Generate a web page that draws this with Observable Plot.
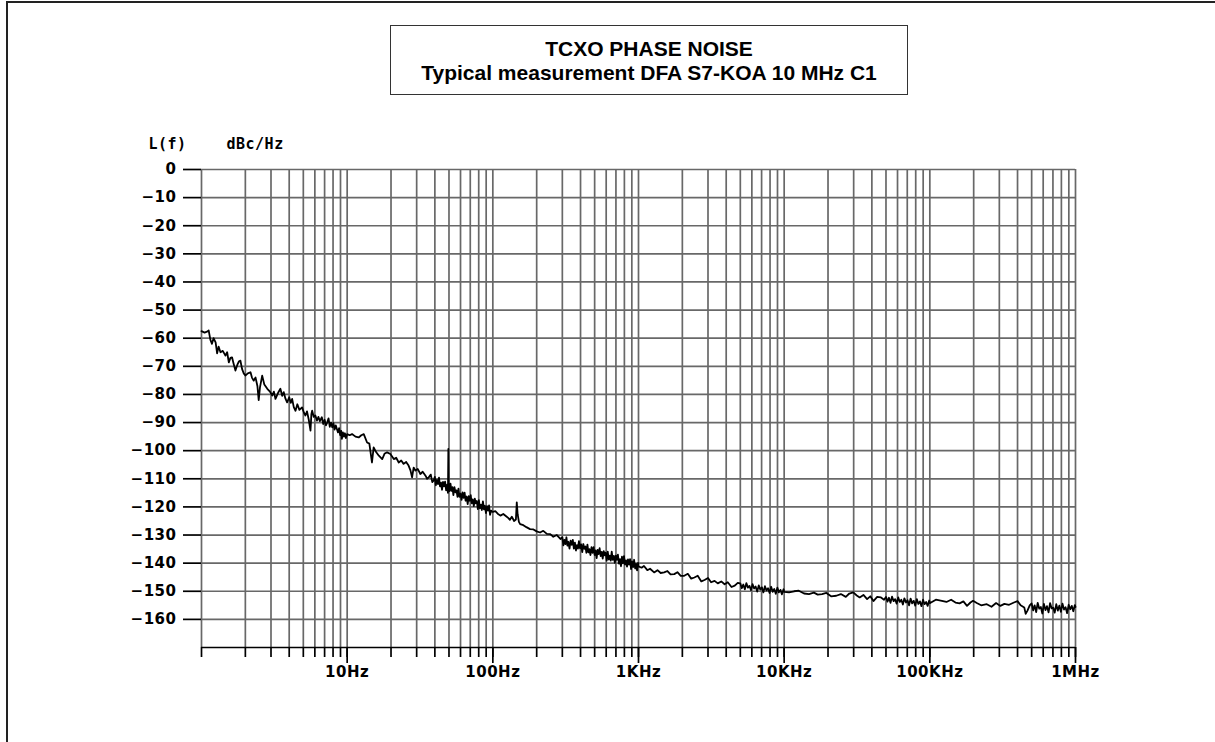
<!DOCTYPE html>
<html>
<head>
<meta charset="utf-8">
<script src="https://cdn.jsdelivr.net/npm/d3@7"></script>
<script src="https://cdn.jsdelivr.net/npm/@observablehq/plot@0.6"></script>
<style>
  html, body { margin: 0; padding: 0; background: #fff; }
  #page { position: relative; width: 1215px; height: 742px; overflow: hidden; background: #fff; }
  #frame { position: absolute; left: 6px; top: 1px; width: 1300px; height: 900px; border-left: 2px solid #222; border-top: 2px solid #222; }
  #title { position: absolute; left: 390px; top: 25px; width: 518px; height: 70px; border: 1.5px solid #333;
           font-family: "Liberation Sans", Arial, sans-serif; font-weight: bold; font-size: 21px; color: #000;
           text-align: center; line-height: 24px; padding-top: 11px; box-sizing: border-box; background: #fff; white-space: nowrap; }
  #chart { position: absolute; left: 0; top: 0; }
</style>
</head>
<body>
<div id="page">
  <div id="chart"></div>
  <div id="frame"></div>
  <div id="title">TCXO PHASE NOISE<br>Typical measurement DFA S7-KOA 10 MHz C1</div>
</div>
<script>
const decade1Hz = [
  [1.00,-57.5],[1.05,-58.0],[1.10,-57.6],[1.12,-57.2],[1.15,-60.5],[1.18,-62.0],[1.21,-60.0],[1.25,-61.5],[1.28,-65.4],[1.31,-63.0],
  [1.35,-65.0],[1.40,-64.5],[1.46,-66.2],[1.50,-65.0],[1.54,-68.6],[1.58,-67.0],[1.62,-66.8],[1.66,-69.0],[1.71,-71.5],[1.76,-69.5],
  [1.81,-68.2],[1.85,-68.0],[1.90,-71.0],[1.95,-72.5],[2.00,-73.3],[2.08,-72.5],[2.17,-72.1],[2.22,-74.0],[2.28,-75.1],[2.35,-74.0],
  [2.42,-77.0],[2.47,-82.0],[2.52,-77.5],[2.61,-73.3],[2.70,-76.5],[2.83,-78.0],[2.95,-79.0],[3.06,-80.4],[3.14,-79.0],[3.22,-81.6],
  [3.35,-79.5],[3.48,-78.0],[3.58,-80.5],[3.67,-79.2],[3.77,-81.5],[3.87,-82.8],[4.00,-81.0],[4.10,-83.0],[4.19,-81.6],[4.30,-84.5],
  [4.42,-85.8],[4.55,-83.5],[4.70,-85.5],[4.90,-84.6],[5.05,-86.5],[5.17,-87.5],[5.30,-86.0],[5.45,-89.0],[5.60,-92.9],[5.68,-87.0],
  [5.75,-85.8],[5.90,-88.0],[6.05,-87.5],[6.20,-89.3],[6.35,-88.0],[6.50,-89.5],[6.70,-88.1],[6.85,-90.5],[7.00,-89.0],[7.15,-91.0],
  [7.30,-89.9],[7.45,-88.5],[7.60,-91.5],[7.75,-90.0],[7.90,-91.7],[8.05,-90.2],[8.20,-92.5],[8.35,-91.0],[8.50,-92.3],[8.65,-93.5],
  [8.80,-92.0],[8.95,-94.5],[9.10,-93.0],[9.20,-95.8],[9.35,-93.5],[9.50,-95.0],[9.65,-93.8],[9.80,-95.5]
];
const decade10Hz = [
  [10.0,-94.1],[10.4,-94.5],[10.8,-94.1],[11.4,-95.0],[12.0,-95.3],[12.5,-94.5],[13.0,-94.1],[13.7,-97.1],[14.2,-97.5],[14.8,-104.2],
  [15.2,-98.8],[15.8,-100.5],[16.5,-101.8],[17.4,-103.0],[18.1,-101.0],[18.8,-100.6],[19.8,-101.2],[20.9,-103.0],[21.7,-102.5],[22.6,-104.2],
  [23.5,-103.5],[24.4,-104.7],[25.4,-104.0],[26.4,-105.3],[27.2,-107.0],[27.9,-109.5],[28.6,-106.0],[29.4,-107.1],[30.5,-106.5],[31.8,-108.3],
  [33.0,-107.5],[34.5,-108.9],[35.4,-110.0],[36.3,-109.5],[37.5,-108.5],[38.4,-111.2],[39.2,-110.7],
  [40.0,-109.3],[40.6,-112.3],[41.3,-110.4],[42.0,-111.9],[42.7,-109.6],[43.4,-112.7],[44.1,-111.4],[44.8,-113.9],[45.5,-111.1],[46.2,-112.7],
  [47.0,-111.0],[47.8,-114.1],[48.6,-112.1],[49.2,-115.0],[49.5,-99.4],[49.8,-113.1],[50.4,-114.4],[51.2,-111.7],[52.0,-114.3],[52.8,-113.0],
  [53.6,-115.8],[54.5,-113.0],[55.4,-114.8],[56.3,-114.1],[57.2,-116.4],[58.1,-113.5],[59.0,-116.4],[60.0,-115.3],[61.0,-117.5],[62.0,-114.8],
  [63.0,-116.8],[64.0,-114.9],[65.0,-117.8],[66.1,-116.3],[67.2,-119.0],[68.3,-116.2],[69.4,-117.8],[70.5,-115.8],[71.6,-118.7],[72.8,-117.3],
  [74.0,-119.7],[75.2,-117.1],[76.4,-118.7],[77.6,-117.9],[78.9,-120.8],[80.2,-117.6],[81.5,-120.5],[82.8,-119.2],[84.1,-121.1],[85.5,-118.0],
  [86.9,-120.9],[88.3,-119.6],[89.7,-122.2],[91.2,-119.7],[92.7,-121.3],[94.2,-119.5],[95.7,-122.8],[97.3,-121.3],[98.9,-121.7]
];
const decade100Hz = [
  [100,-121.8],[104,-121.5],[108,-122.4],[112.7,-123.1],[118,-122.5],[124,-123.4],[128,-124.0],[131,-124.6],[135,-123.5],[140,-125.0],
  [144,-124.5],[146,-118.4],[148,-122.6],[151,-125.3],[154,-126.1],[162,-126.5],[170,-127.2],[180,-127.9],[190,-128.0],[200,-128.7],
  [211,-129.1],[222,-128.5],[235,-129.6],[248,-129.7],[260,-130.6],[275,-130.0],[291,-131.4],
  [300,-130.8],[305,-133.7],[310,-131.7],[315,-133.2],[320,-130.8],[325,-133.8],[330,-132.4],[336,-134.8],[342,-132.0],[348,-133.5],
  [354,-131.7],[360,-134.8],[366,-132.7],[372,-135.5],[378,-133.6],[384,-134.8],[390,-132.2],[397,-134.7],[404,-133.3],[411,-136.1],
  [418,-133.2],[425,-134.9],[432,-134.1],[439,-136.3],[446,-133.4],[453,-136.2],[460,-135.0],[468,-137.1],[476,-134.3],[484,-136.3],
  [492,-134.3],[500,-137.1],[508,-135.5],[516,-138.2],[524,-135.3],[532,-136.8],[541,-134.7],[550,-137.5],[559,-136.0],[568,-138.4],
  [577,-135.7],[586,-137.2],[595,-136.3],[605,-139.1],[615,-135.9],[625,-138.7],[635,-137.3],[645,-139.1],[655,-135.9],[666,-138.8],
  [677,-137.4],[688,-139.9],[699,-137.3],[710,-138.8],[722,-137.0],[734,-140.2],[746,-138.6],[758,-141.1],[770,-137.7],[782,-140.1],
  [795,-137.5],[808,-140.5],[821,-139.0],[834,-141.2],[847,-138.7],[861,-140.5],[875,-138.6],[889,-142.1],[903,-139.4],[918,-141.4],
  [933,-138.8],[948,-141.9],[963,-140.3],[978,-142.6],[993,-139.9]
];
const decade1kHz = [
  [1000,-141.2],[1050,-141.6],[1090,-141.0],[1150,-142.5],[1200,-142.0],[1280,-143.3],[1350,-142.5],[1420,-143.5],[1500,-143.3],[1580,-142.8],
  [1660,-144.0],[1760,-143.9],[1850,-143.2],[1950,-144.5],[2060,-144.5],[2180,-143.8],[2300,-145.5],[2420,-145.1],[2550,-144.5],[2700,-146.5],
  [2840,-146.0],[3000,-145.3],[3150,-146.8],[3330,-146.3],[3500,-147.2],[3700,-146.5],[3900,-147.5],[4100,-146.8],[4350,-148.5],[4580,-148.0],
  [4800,-147.0],[5000,-147.2],[5120,-148.9],[5240,-147.6],[5370,-149.3],[5500,-147.1],[5640,-148.7],[5780,-148.1],[5920,-149.6],[6070,-147.5],
  [6220,-149.0],[6370,-148.3],[6530,-150.1],[6690,-147.9],[6860,-149.4],[7030,-148.6],[7200,-150.4],[7380,-148.2],[7560,-149.7],[7750,-148.9],
  [7940,-150.6],[8140,-148.4],[8340,-150.2],[8550,-149.2],[8760,-150.9],[8980,-148.7],[9200,-150.4],[9430,-149.5],[9660,-151.1],[9900,-149.3]
];
const decade10kHz = [
  [10000,-150.2],[10800,-150.4],[11700,-150.0],[12600,-149.8],[13700,-150.8],[14800,-151.0],[16000,-150.5],[17000,-151.2],[18200,-151.0],[19500,-150.6],
  [21000,-151.8],[22800,-151.6],[24500,-151.0],[26500,-152.0],[28000,-150.8],[29800,-150.4],[31500,-151.5],[33000,-152.2],[35000,-151.3],[37100,-152.8],
  [39000,-151.8],[41000,-153.5],[43500,-152.0],[46200,-152.2],[48500,-153.0],
  [50000,-152.0],[51200,-153.7],[52400,-152.3],[53700,-154.1],[55000,-151.9],[56400,-153.5],[57800,-152.8],[59200,-154.4],[60700,-152.2],[62200,-153.8],
  [63700,-153.0],[65300,-154.7],[66900,-152.5],[68600,-154.0],[70300,-153.2],[72000,-155.0],[73800,-152.6],[75600,-154.3],[77500,-153.4],[79400,-155.1],
  [81400,-152.8],[83400,-154.5],[85500,-153.6],[87600,-155.3],[89800,-153.0],[92000,-154.6],[94300,-153.8],[96600,-155.2],[99000,-153.3]
];
const decade100kHz = [
  [100500,-154.2],[110000,-153.0],[121000,-153.4],[130000,-153.8],[140000,-153.0],[150000,-154.0],[160000,-154.3],[170000,-153.6],[180000,-155.2],[190000,-154.0],
  [198000,-153.4],[210000,-154.2],[225000,-155.0],[246000,-154.6],[265000,-155.5],[285000,-154.2],[305000,-155.2],[325000,-154.5],[350000,-154.8],[378000,-154.0],
  [400000,-153.5],[420000,-155.0],[445000,-155.8],[455000,-158.0],[468000,-156.9],[485000,-155.0],
  [500000,-154.3],[512000,-156.8],[524000,-155.0],[537000,-157.4],[550000,-154.1],[564000,-156.2],[578000,-155.6],[592000,-157.9],[607000,-154.5],[622000,-156.7],
  [637000,-155.3],[653000,-157.5],[669000,-154.2],[686000,-156.1],[703000,-155.8],[720000,-157.6],[738000,-154.6],[756000,-156.9],[775000,-155.1],[794000,-157.3],
  [814000,-154.4],[834000,-156.5],[855000,-155.7],[876000,-157.8],[898000,-154.8],[920000,-156.4],[943000,-155.2],[966000,-157.1],[990000,-154.9],[1000000,-155.6]
];

// Axis definitions
const gridFreqs = [
  1, 2, 3, 4, 5, 6, 7, 8, 9,
  10, 20, 30, 40, 50, 60, 70, 80, 90,
  100, 200, 300, 400, 500, 600, 700, 800, 900,
  1000, 2000, 3000, 4000, 5000, 6000, 7000, 8000, 9000,
  10000, 20000, 30000, 40000, 50000, 60000, 70000, 80000, 90000,
  100000, 200000, 300000, 400000, 500000, 600000, 700000, 800000, 900000,
  1000000
];
const xLabelFreqs = [10, 100, 1000, 10000, 100000, 1000000];
const xLabels = ["10Hz", "100Hz", "1KHz", "10KHz", "100KHz", "1MHz"];
const yTicks = [0, -10, -20, -30, -40, -50, -60, -70, -80, -90, -100, -110, -120, -130, -140, -150, -160];
const yDomain = [-170, 0];
const yQuantity = "L(f)";
const yUnit = "dBc/Hz";

const data = [].concat(decade1Hz, decade10Hz, decade100Hz, decade1kHz, decade10kHz, decade100kHz)
  .map(([f, v]) => ({f, v}));

const sansBold = "'DejaVu Sans', 'Liberation Sans', sans-serif";
const monoBold = "'DejaVu Sans Mono', 'Liberation Mono', monospace";
const gridColor = "#686868";

const chart = Plot.plot({
  width: 1215,
  height: 742,
  marginLeft: 201,
  marginRight: 140,
  marginTop: 169,
  marginBottom: 95,
  style: {fontFamily: sansBold, fontWeight: "bold", fontSize: "15px", color: "#000", background: "transparent"},
  x: {type: "log", domain: [1, 1000000], axis: null},
  y: {domain: yDomain, axis: null},
  marks: [
    Plot.ruleX(gridFreqs, {y1: yDomain[0], y2: yDomain[1], stroke: gridColor, strokeWidth: 1.7}),
    Plot.ruleY(yTicks, {x1: 1, x2: 1000000, stroke: gridColor, strokeWidth: 1.7}),
    Plot.ruleY([yDomain[0]], {x1: 1, x2: 1000000, stroke: "#000", strokeWidth: 1.7}),
    Plot.axisX({ticks: gridFreqs, tickSize: 10, tickFormat: () => "", label: null, stroke: "#000", strokeWidth: 1.7}),
    Plot.axisX({ticks: xLabelFreqs, tickSize: 16, tickPadding: 3, label: null,
      tickFormat: d => xLabels[xLabelFreqs.indexOf(d)], stroke: "#000", strokeWidth: 1.7, fill: "#000"}),
    Plot.axisY({ticks: yTicks, tickSize: 18, tickPadding: 7, label: null,
      tickFormat: d => d === 0 ? "0" : "\u2212" + Math.abs(d), stroke: "#000", strokeWidth: 1.7, fill: "#000"}),
    Plot.text([yQuantity], {frameAnchor: "top-left", dx: -53, dy: -25, lineAnchor: "middle", textAnchor: "start", fill: "#000",
      fontFamily: monoBold, fontSize: 15}),
    Plot.text([yUnit], {frameAnchor: "top-left", dx: 25, dy: -25, lineAnchor: "middle", textAnchor: "start", fill: "#000",
      fontFamily: monoBold, fontSize: 15}),
    Plot.line(data, {x: "f", y: "v", stroke: "#000", strokeWidth: 1.8})
  ]
});
chart.querySelectorAll("text").forEach(t => {
  const mono = (t.getAttribute("font-family") || "").includes("Mono");
  t.setAttribute("letter-spacing", mono ? "3.5px" : "0.5px");
});
document.getElementById("chart").appendChild(chart);
</script>
</body>
</html>
